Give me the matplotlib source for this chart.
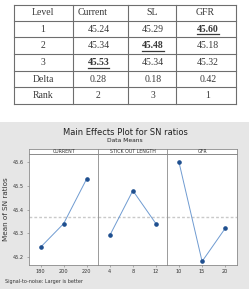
import matplotlib
matplotlib.use("Agg")
import matplotlib.pyplot as plt
from matplotlib.patches import Rectangle
from matplotlib.lines import Line2D

W, H = 253, 289
fig = plt.figure(figsize=(W / 100, H / 100), dpi=100)

def fx(x):
    return x / W

def fy(y):
    return 1 - y / H

# ---------------- data ----------------
row_labels = ["1", "2", "3", "Delta", "Rank"]
col_headers = ["Level", "Current", "SL", "GFR"]
current_vals = ["45.24", "45.34", "45.53", "0.28", "2"]
sl_vals = ["45.29", "45.48", "45.34", "0.18", "3"]
gfr_vals = ["45.60", "45.18", "45.32", "0.42", "1"]
best_rows = {"Current": 2, "SL": 1, "GFR": 0}

panel_titles = ["CURRENT", "STICK OUT LENGTH", "GFR"]
current_levels = ["180", "200", "220"]
sl_levels = ["4", "8", "12"]
gfr_levels = ["10", "15", "20"]
current_means = [45.24, 45.34, 45.53]
sl_means = [45.29, 45.48, 45.34]
gfr_means = [45.60, 45.18, 45.32]
grand_mean = 45.37
y_ticks = [45.2, 45.3, 45.4, 45.5, 45.6]

# ---------------- table ----------------
serif = "Liberation Serif"
row_edges = [5, 20.7, 37.3, 54, 71, 87.3, 104.3]
col_edges = [14, 72.7, 128.5, 176.5, 236]
line_col = "#6e6e6e"
for y in row_edges:
    fig.add_artist(Line2D([fx(col_edges[0]), fx(col_edges[-1])], [fy(y), fy(y)],
                          color=line_col, lw=0.8))
for x in col_edges:
    fig.add_artist(Line2D([fx(x), fx(x)], [fy(row_edges[0]), fy(row_edges[-1])],
                          color=line_col, lw=0.8))

col_centers = [43, 98.5, 153, 208]
fs = 7
tc = "#3a3a3a"
hy = (row_edges[0] + row_edges[1]) / 2
fig.text(fx(43), fy(hy), col_headers[0], ha="center", va="center", fontsize=fs, family=serif, color=tc)
fig.text(fx(78), fy(hy), col_headers[1], ha="left", va="center", fontsize=fs, family=serif, color=tc)
fig.text(fx(152), fy(hy), col_headers[2], ha="center", va="center", fontsize=fs, family=serif, color=tc)
fig.text(fx(205), fy(hy), col_headers[3], ha="center", va="center", fontsize=fs, family=serif, color=tc)

renderer = fig.canvas.get_renderer()
cols = [("Current", current_vals), ("SL", sl_vals), ("GFR", gfr_vals)]
for r, lab in enumerate(row_labels):
    yc = (row_edges[r + 1] + row_edges[r + 2]) / 2
    fig.text(fx(col_centers[0]), fy(yc), lab, ha="center", va="center", fontsize=fs,
             family=serif, color=tc)
    for c, (name, vals) in enumerate(cols):
        bold = best_rows[name] == r
        t = fig.text(fx(col_centers[c + 1]), fy(yc), vals[r], ha="center", va="center",
                     fontsize=fs, family=serif, color=tc,
                     fontweight="bold" if bold else "normal")
        if bold:
            bb = t.get_window_extent(renderer)
            fig.add_artist(Line2D([bb.x0 / (W), bb.x1 / (W)],
                                  [(bb.y0 - 0.5) / H, (bb.y0 - 0.5) / H],
                                  color=tc, lw=0.9))

# ---------------- main effects plot ----------------
fig.add_artist(Rectangle((0, fy(289)), fx(249), fy(122) - fy(289),
                         transform=fig.transFigure, facecolor="#e6e6e6",
                         edgecolor="none", zorder=-5))

fig.text(fx(125), fy(133), "Main Effects Plot for SN ratios", ha="center", va="center",
         fontsize=6, color="#222222")
fig.text(fx(125), fy(140.5), "Data Means", ha="center", va="center", fontsize=4.3,
         color="#222222")

left, right = 29, 236.7
top_head, top_plot, bottom = 149, 154, 265
pw = (right - left) / 3
ylim = (45.2 - 8.3 / 236, 45.6 + 8.3 / 236)

levels_list = [current_levels, sl_levels, gfr_levels]
means_list = [current_means, sl_means, gfr_means]
axes = []
for i in range(3):
    x0 = left + i * pw
    ax = fig.add_axes([fx(x0), fy(bottom), pw / W, (bottom - top_plot) / H])
    ax.set_facecolor("white")
    xs = list(range(3))
    ax.axhline(grand_mean, color="#c9c9c9", lw=1.0, ls=(0, (2, 1.5)), zorder=1)
    ax.plot(xs, means_list[i], color="#6f9bd1", lw=0.7, zorder=2)
    ax.plot(xs, means_list[i], ls="none", marker="o", ms=2.3, color="#1f4f8f",
            zorder=3)
    ax.set_xlim(-0.5, 2.5)
    ax.set_ylim(*ylim)
    ax.set_xticks(xs)
    ax.set_xticklabels(levels_list[i], fontsize=3.6, color="#333333")
    ax.tick_params(axis="x", length=1.5, width=0.4, pad=1.5, color="#777777")
    if i == 0:
        ax.set_yticks(y_ticks)
        ax.set_yticklabels([f"{v:.1f}" for v in y_ticks], fontsize=3.6, color="#333333")
        ax.tick_params(axis="y", length=1.5, width=0.4, pad=2.5, color="#777777")
        ax.set_ylabel("Mean of SN ratios", fontsize=5.2, color="#333333", labelpad=2.5)
    else:
        ax.set_yticks([])
    for s in ax.spines.values():
        s.set_color("#8a8a8a")
        s.set_linewidth(0.6)
    axes.append(ax)

    hax = fig.add_axes([fx(x0), fy(top_plot), pw / W, (top_plot - top_head) / H])
    hax.set_facecolor("white")
    hax.set_xticks([])
    hax.set_yticks([])
    for s in hax.spines.values():
        s.set_color("#8a8a8a")
        s.set_linewidth(0.6)
    hax.text(0.5, 0.45, panel_titles[i], ha="center", va="center", fontsize=3.4,
             color="#333333", transform=hax.transAxes)

fig.text(fx(5), fy(282), "Signal-to-noise: Larger is better", ha="left", va="center",
         fontsize=3.5, color="#333333")

fig.savefig("out.png", dpi=100)
